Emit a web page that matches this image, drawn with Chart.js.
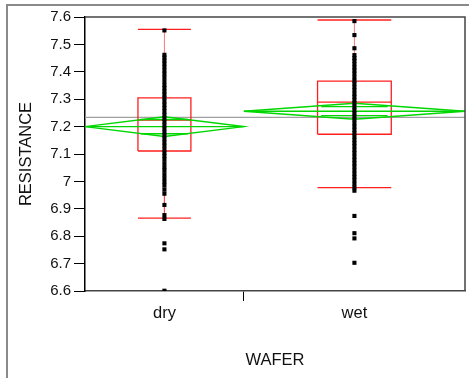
<!DOCTYPE html>
<html>
<head>
  <meta charset="UTF-8">
  <title>Resistance by Wafer</title>
  <script src="https://cdn.jsdelivr.net/npm/chart.js"></script>
  <style>
    body { margin: 0; background: #fff; font-family: "Liberation Sans", Arial, sans-serif; }
    #wrap { position: relative; width: 469px; height: 378px; }
    #frame {
      position: absolute; left: 6px; top: 4px; right: 0; bottom: 0;
      border-left: 2px solid #8a8a8a; border-top: 2px solid #8a8a8a;
      pointer-events: none;
    }
  </style>
</head>
<body>
  <div id="wrap">
    <canvas id="chart" width="469" height="378"></canvas>
    <div id="frame"></div>
  </div>

  <script>
    // groups on the x axis
    const groups = ["dry", "wet"];

    // raw resistance values
    const dryValues = [
      7.551,
      7.462, 7.452, 7.441, 7.430, 7.418, 7.405, 7.393, 7.380, 7.366, 7.352, 7.340,
      7.328, 7.317, 7.305, 7.292, 7.280, 7.268, 7.255, 7.243, 7.230, 7.218, 7.205,
      7.193, 7.180, 7.168, 7.155, 7.142, 7.130, 7.117, 7.104, 7.092, 7.080, 7.066,
      7.052, 7.040, 7.026, 7.012, 6.998, 6.985, 6.970, 6.955,
      6.914, 6.877, 6.863, 6.774, 6.752, 6.601
    ];
    const wetValues = [
      7.585, 7.534, 7.486,
      7.461, 7.450, 7.440, 7.428, 7.416, 7.405, 7.393, 7.380, 7.368, 7.357, 7.345,
      7.333, 7.320, 7.309, 7.297, 7.285, 7.272, 7.260, 7.249, 7.237, 7.225, 7.212,
      7.200, 7.188, 7.176, 7.164, 7.152, 7.140, 7.128, 7.115, 7.103, 7.090, 7.078,
      7.066, 7.054, 7.041, 7.028, 7.016, 7.004, 6.991, 6.978, 6.966,
      6.874, 6.811, 6.792, 6.703
    ];

    // box plot stats per group
    const whiskerLow  = [6.866, 6.977];
    const quartile1   = [7.111, 7.172];
    const medians     = [7.224, 7.289];
    const quartile3   = [7.305, 7.366];
    const whiskerHigh = [7.555, 7.589];

    // means diamonds per group
    const groupMeans  = [7.200, 7.256];
    const ciLow       = [7.164, 7.227];
    const ciHigh      = [7.236, 7.285];
    const overlapLow  = [7.174, 7.240];
    const overlapHigh = [7.226, 7.273];

    const grandMean = 7.234;

    const yTicks = [6.6, 6.7, 6.8, 6.9, 7.0, 7.1, 7.2, 7.3, 7.4, 7.5, 7.6];

    // layout: share of x axis taken by each group (JMP scales by group size)
    const groupShare = [0.418, 0.582];

    const RED = "rgb(255,30,30)";
    const RED_LIGHT = "rgba(255,70,70,0.75)";
    const GREEN = "rgb(0,215,0)";

    const spans = [];
    let acc = 0;
    groupShare.forEach(w => { spans.push({ left: acc, right: acc + w, center: acc + w / 2, w: w }); acc += w; });

    const datasets = [];

    function seg(points, color, width, order) {
      datasets.push({
        type: "line", data: points, showLine: true, fill: false, tension: 0,
        borderColor: color, borderWidth: width, pointRadius: 0, order: order
      });
    }

    // points first so they are drawn on top
    [dryValues, wetValues].forEach((vals, i) => {
      datasets.push({
        type: "scatter",
        data: vals.map(v => ({ x: spans[i].center, y: v })),
        pointStyle: "rect", pointRadius: 2.9, pointBorderWidth: 0,
        backgroundColor: "#000", order: 0
      });
    });

    groups.forEach((g, i) => {
      const s = spans[i];
      const c = s.center, h = s.w / 6, o = s.w * 0.15;
      // diamond
      seg([{x: s.left, y: groupMeans[i]}, {x: c, y: ciHigh[i]}, {x: s.right, y: groupMeans[i]},
           {x: c, y: ciLow[i]}, {x: s.left, y: groupMeans[i]}], GREEN, 1.4, 2);
      seg([{x: s.left, y: groupMeans[i]}, {x: s.right, y: groupMeans[i]}], GREEN, 1.4, 2);
      seg([{x: c - o, y: overlapHigh[i]}, {x: c + o, y: overlapHigh[i]}], GREEN, 1.4, 2);
      seg([{x: c - o, y: overlapLow[i]}, {x: c + o, y: overlapLow[i]}], GREEN, 1.4, 2);
      // box
      seg([{x: c - h, y: quartile1[i]}, {x: c + h, y: quartile1[i]}, {x: c + h, y: quartile3[i]},
           {x: c - h, y: quartile3[i]}, {x: c - h, y: quartile1[i]}], RED, 1.3, 3);
      seg([{x: c - h, y: medians[i]}, {x: c + h, y: medians[i]}], RED, 1.3, 3);
      // whiskers
      seg([{x: c, y: quartile3[i]}, {x: c, y: whiskerHigh[i]}], RED_LIGHT, 1, 3);
      seg([{x: c, y: quartile1[i]}, {x: c, y: whiskerLow[i]}], RED_LIGHT, 1, 3);
      seg([{x: c - h, y: whiskerHigh[i]}, {x: c + h, y: whiskerHigh[i]}], RED, 1.3, 3);
      seg([{x: c - h, y: whiskerLow[i]}, {x: c + h, y: whiskerLow[i]}], RED, 1.3, 3);
    });

    // grand mean across the whole plot
    seg([{x: 0, y: grandMean}, {x: 1, y: grandMean}], "#a0a0a0", 1.2, 4);

    const frameArea = {
      id: "frameArea",
      afterDraw(chart) {
        const a = chart.chartArea, ctx = chart.ctx;
        ctx.save();
        ctx.strokeStyle = "#444";
        ctx.lineWidth = 1.5;
        ctx.beginPath();
        ctx.moveTo(a.left, a.top);
        ctx.lineTo(a.right, a.top);
        ctx.lineTo(a.right, a.bottom);
        ctx.stroke();
        ctx.restore();
      }
    };

    const tickFont = { family: "'Liberation Sans', Arial, sans-serif", size: 15 };
    const titleFont = { family: "'Liberation Sans', Arial, sans-serif", size: 16.5 };

    new Chart(document.getElementById("chart"), {
      type: "scatter",
      data: { datasets: datasets },
      plugins: [frameArea],
      options: {
        responsive: false,
        animation: false,
        layout: { padding: { top: 17, right: 4, left: 0, bottom: 0 } },
        plugins: { legend: { display: false }, tooltip: { enabled: false } },
        scales: {
          x: {
            type: "linear", min: 0, max: 1,
            afterFit: scale => { scale.height = 87; },
            afterBuildTicks: scale => {
              scale.ticks = [{ value: spans[0].center }, { value: spans[0].right }, { value: spans[1].center }];
            },
            ticks: {
              autoSkip: false, maxRotation: 0, padding: 3, color: "#111", font: titleFont,
              callback: (v, idx) => idx === 0 ? groups[0] : idx === 2 ? groups[1] : ""
            },
            grid: {
              drawOnChartArea: false, drawTicks: true, tickLength: 10,
              color: ctx => ctx.index === 1 ? "#000" : "rgba(0,0,0,0)"
            },
            border: { display: true, color: "#444", width: 1.5 },
            title: { display: true, text: "WAFER", color: "#111", font: titleFont, padding: { top: 0, bottom: 8 } }
          },
          y: {
            min: 6.6, max: 7.6,
            afterFit: scale => { scale.width = 85; },
            afterBuildTicks: scale => { scale.ticks = yTicks.map(v => ({ value: v })); },
            ticks: {
              padding: 3, color: "#111", font: tickFont,
              callback: v => String(Number(v.toFixed(1)))
            },
            grid: { drawOnChartArea: false, drawTicks: true, tickLength: 11, color: "#000" },
            border: { display: true, color: "#000", width: 1.5 },
            title: { display: true, text: "RESISTANCE", color: "#111", font: titleFont, padding: { top: 17, bottom: 0 } }
          }
        }
      }
    });
  </script>
</body>
</html>
